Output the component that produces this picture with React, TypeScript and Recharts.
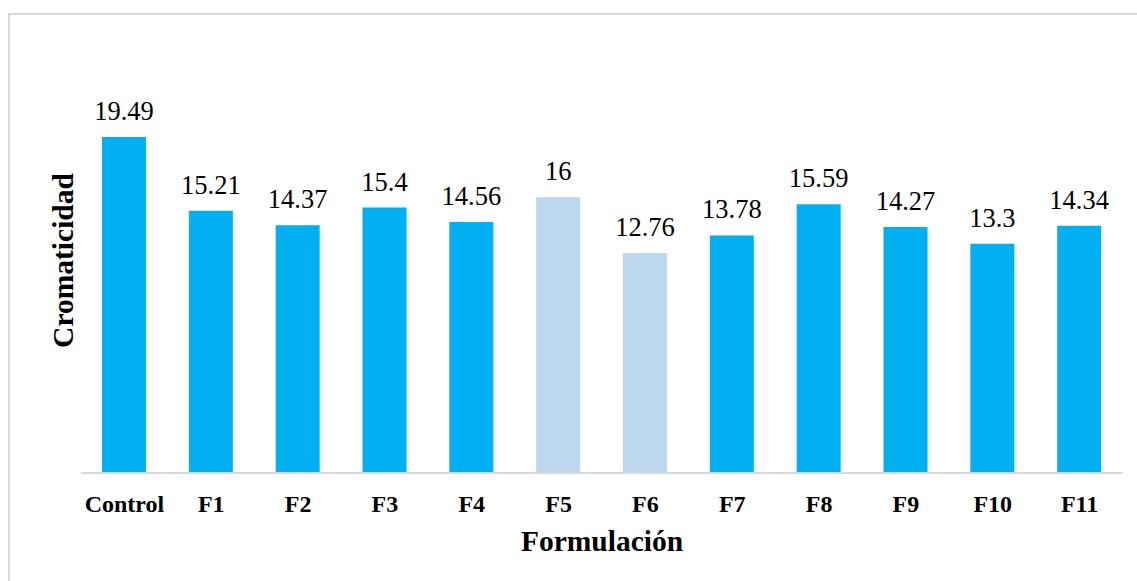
import { BarChart, Bar, XAxis, YAxis, Cell, LabelList } from "recharts";

const categories = ["Control", "F1", "F2", "F3", "F4", "F5", "F6", "F7", "F8", "F9", "F10", "F11"];
const cromaticidad = [19.49, 15.21, 14.37, 15.4, 14.56, 16, 12.76, 13.78, 15.59, 14.27, 13.3, 14.34];
const yDomain = [0, 25];

const data = categories.map((name, i) => ({ name, value: cromaticidad[i] }));

// F5 and F6 are drawn in the pale tone
const paleBars = ["F5", "F6"];
const FONT = '"Liberation Serif", "Times New Roman", serif';

function CategoryTick({ x, y, payload }: any) {
  return (
    <text x={x} y={y} dy={39} textAnchor="middle" style={{ fontFamily: FONT, fontWeight: 700, fontSize: 24 }} fill="#000">
      {payload.value}
    </text>
  );
}

function ValueLabel({ x, y, width, value }: any) {
  return (
    <text x={x + width / 2} y={y - 17} textAnchor="middle" style={{ fontFamily: FONT, fontSize: 26.5 }} fill="#000">
      {value}
    </text>
  );
}

export default function App() {
  return (
    <div style={{ position: "absolute", left: 0, top: 0, width: 1137, height: 581, overflow: "hidden", background: "#fff", fontFamily: FONT }}>
      <div
        style={{
          position: "absolute",
          left: 8,
          top: 13,
          width: 1200,
          height: 700,
          borderTop: "2px solid #d9d9d9",
          borderLeft: "2px solid #d9d9d9",
        }}
      />
      <div style={{ position: "absolute", left: 0, top: 0 }}>
        <BarChart width={1137} height={581} data={data} margin={{ top: 42, right: 14, left: 21, bottom: 48 }}>
          <XAxis
            dataKey="name"
            height={60}
            tickLine={false}
            tickSize={0}
            tickMargin={0}
            axisLine={{ stroke: "#d9d9d9", strokeWidth: 2 }}
            tick={<CategoryTick />}
            interval={0}
            label={{
              content: ({ viewBox }: any) => (
                <text
                  x={viewBox.x + viewBox.width / 2}
                  y={viewBox.y + 78}
                  textAnchor="middle"
                  style={{ fontFamily: FONT, fontWeight: 700, fontSize: 29.5 }}
                  fill="#000"
                >
                  Formulación
                </text>
              ),
            }}
          />
          <YAxis
            width={60}
            domain={yDomain}
            axisLine={false}
            tickLine={false}
            tick={false}
            label={{
              content: ({ viewBox }: any) => {
                const cx = viewBox.x + 42;
                const cy = viewBox.y + viewBox.height / 2 + 3;
                return (
                  <text
                    x={cx}
                    y={cy}
                    transform={`rotate(-90 ${cx} ${cy})`}
                    textAnchor="middle"
                    dominantBaseline="central"
                    style={{ fontFamily: FONT, fontWeight: 700, fontSize: 29.5 }}
                    fill="#000"
                  >
                    Cromaticidad
                  </text>
                );
              },
            }}
          />
          <Bar dataKey="value" barSize={44} isAnimationActive={false}>
            {data.map((d) => (
              <Cell key={d.name} fill={paleBars.includes(d.name) ? "#bdd7ee" : "#00b0f0"} />
            ))}
            <LabelList dataKey="value" content={<ValueLabel />} />
          </Bar>
        </BarChart>
      </div>
    </div>
  );
}
